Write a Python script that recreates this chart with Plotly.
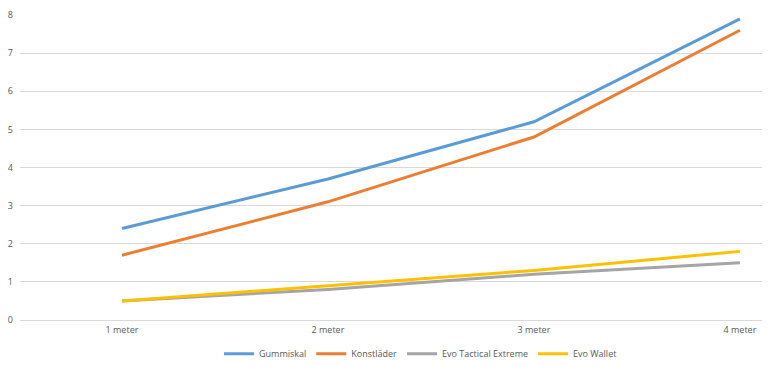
import plotly.graph_objects as go

categories = ["1 meter", "2 meter", "3 meter", "4 meter"]
x_pos = [1, 2, 3, 4]
gummiskal = [2.4, 3.7, 5.2, 7.9]
konstlader = [1.7, 3.1, 4.8, 7.6]
evo_tactical = [0.5, 0.8, 1.2, 1.5]
evo_wallet = [0.5, 0.9, 1.3, 1.8]

series = [
    ("Gummiskal", gummiskal, "#5B9BD5"),
    ("Konstläder", konstlader, "#ED7D31"),
    ("Evo Tactical Extreme", evo_tactical, "#A5A5A5"),
    ("Evo Wallet", evo_wallet, "#FFC000"),
]

fig = go.Figure()
for name, vals, color in series:
    fig.add_trace(go.Scatter(x=x_pos, y=vals, name=name, mode="lines",
                             line=dict(color=color, width=3)))

# page body has an 8px default margin; figure is sized to compensate
fig.update_layout(
    width=762, height=359,
    margin=dict(l=12, r=0, t=7, b=47, autoexpand=False),
    paper_bgcolor="white", plot_bgcolor="white",
    font=dict(family="Open Sans", size=9, color="#595959"),
    showlegend=True,
    legend=dict(orientation="h", x=0.534, xanchor="center", y=-0.111, yanchor="middle",
                font=dict(size=9, color="#595959"), itemwidth=30, tracegroupgap=0),
    xaxis=dict(tickvals=x_pos, ticktext=categories, range=[0.505, 4.146],
               showgrid=False, zeroline=False, showline=False, ticks="",
               ticklabelstandoff=3, automargin=False),
    yaxis=dict(range=[0, 8], dtick=1, showgrid=True, gridcolor="#D9D9D9", gridwidth=1,
               zeroline=True, zerolinecolor="#D9D9D9", zerolinewidth=1,
               showline=False, ticks="", ticklabelstandoff=6, automargin=False),
)

fig.write_html("out.html")
